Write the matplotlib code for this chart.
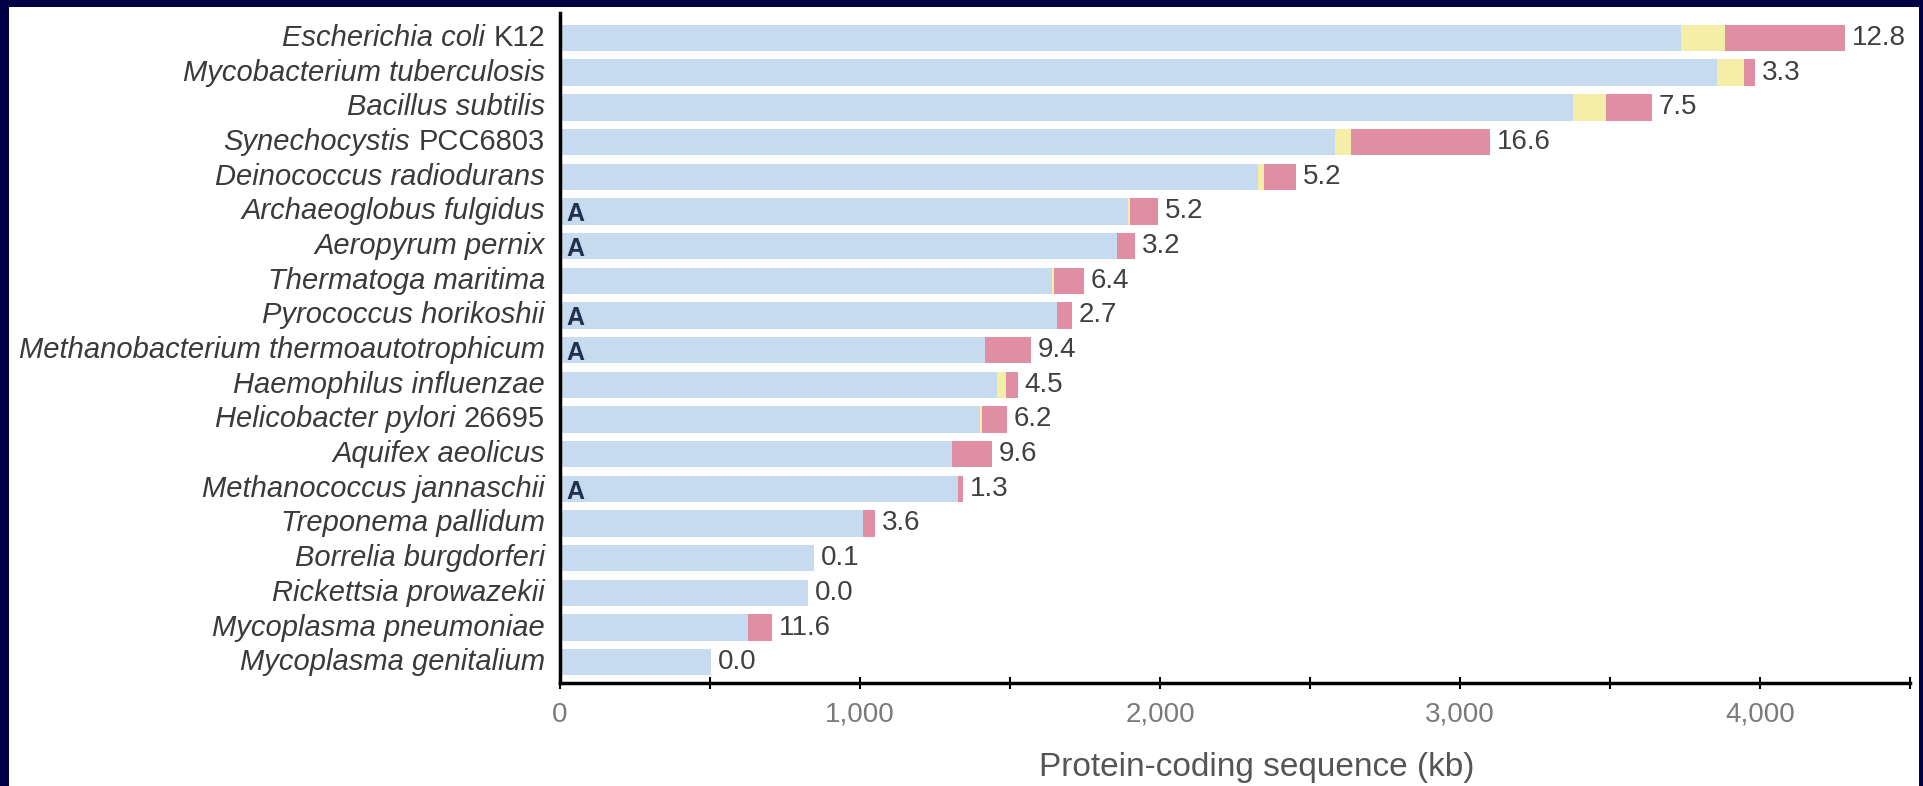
import matplotlib
matplotlib.use("Agg")
import matplotlib.pyplot as plt
from matplotlib.patches import Rectangle
from matplotlib.ticker import MultipleLocator, FuncFormatter

plt.rcParams['font.family'] = ['Liberation Sans', 'DejaVu Sans']

# genomes, top to bottom
genus = ["Escherichia coli", "Mycobacterium tuberculosis", "Bacillus subtilis",
         "Synechocystis", "Deinococcus radiodurans", "Archaeoglobus fulgidus",
         "Aeropyrum pernix", "Thermatoga maritima", "Pyrococcus horikoshii",
         "Methanobacterium thermoautotrophicum", "Haemophilus influenzae",
         "Helicobacter pylori", "Aquifex aeolicus", "Methanococcus jannaschii",
         "Treponema pallidum", "Borrelia burgdorferi", "Rickettsia prowazekii",
         "Mycoplasma pneumoniae", "Mycoplasma genitalium"]
strain = ["K12", "", "", "PCC6803", "", "", "", "", "", "", "", "26695",
          "", "", "", "", "", "", ""]
archaea = [False, False, False, False, False, True, True, False, True, True,
           False, False, False, True, False, False, False, False, False]

# protein-coding sequence (kb), three stacked parts
blue = [3737, 3855, 3377, 2583, 2327, 1893, 1856, 1640, 1656, 1415,
        1455, 1400, 1307, 1327, 1010, 848, 827, 627, 503]
yellow = [146, 90, 110, 54, 20, 6, 0, 8, 0, 0,
          30, 6, 0, 0, 0, 0, 0, 0, 0]
pink = [400, 38, 153, 463, 106, 94, 61, 99, 50, 155,
        40, 84, 133, 16, 40, 0, 0, 80, 0]
pct = ["12.8", "3.3", "7.5", "16.6", "5.2", "5.2", "3.2", "6.4", "2.7", "9.4",
       "4.5", "6.2", "9.6", "1.3", "3.6", "0.1", "0.0", "11.6", "0.0"]

W, H = 1924, 786
fig = plt.figure(figsize=(W / 100, H / 100), dpi=100, facecolor="#000045")
panel = Rectangle((9 / W, 0), (1919 - 9) / W, (H - 7) / H,
                  transform=fig.transFigure, facecolor="white",
                  edgecolor="none", zorder=-10)
fig.patches.append(panel)

ax = fig.add_axes([560 / W, 103 / H, 1350 / W, 670 / H], zorder=5)
ax.set_facecolor("none")

y = list(range(len(genus)))
h = 0.76
left2 = [b + yy for b, yy in zip(blue, yellow)]
ax.barh(y, blue, height=h, color="#c6dbf0", linewidth=0)
ax.barh(y, yellow, left=blue, height=h, color="#f4eea6", linewidth=0)
ax.barh(y, pink, left=left2, height=h, color="#e08ea4", linewidth=0)

for i in y:
    end = left2[i] + pink[i]
    ax.annotate(pct[i], (end, i), xytext=(5, 0), textcoords="offset points",
                va="center", ha="left", fontsize=20, color="#404040")
    if archaea[i]:
        ax.text(22, i + 0.08, "A", va="center", ha="left", fontsize=18,
                fontweight="bold", color="#22304f")

ax.set_ylim(18.6, -0.72)
ax.set_xlim(0, 4500)
ax.set_yticks([])

# italic genus/species name plus roman strain label
xl = -15 / 0.3
for i in y:
    if strain[i]:
        t = ax.text(xl, i, strain[i], ha="right", va="center",
                    fontsize=21, color="#3a3a3a", clip_on=False)
        ax.annotate(genus[i], xy=(0, 0.5), xycoords=t, xytext=(-6, 0),
                    textcoords="offset points", ha="right", va="center",
                    fontsize=21, style="italic", color="#3a3a3a",
                    annotation_clip=False)
    else:
        ax.text(xl, i, genus[i], ha="right", va="center", clip_on=False,
                fontsize=21, style="italic", color="#3a3a3a")

ax.xaxis.set_major_locator(MultipleLocator(1000))
ax.xaxis.set_minor_locator(MultipleLocator(500))
ax.xaxis.set_major_formatter(FuncFormatter(lambda v, p: f"{v:,.0f}"))
ax.tick_params(axis="x", which="both", direction="inout", length=9, width=1.5,
               labelsize=20, labelcolor="#7a7a7a", pad=9)
ax.set_xlabel("Protein-coding sequence (kb)", fontsize=24, color="#555555",
              va="center")
ax.xaxis.set_label_coords(0.516, -0.126)

for s in ["top", "right"]:
    ax.spines[s].set_visible(False)
ax.spines["left"].set_linewidth(2.5)
ax.spines["bottom"].set_linewidth(2.5)

fig.savefig("out.png", dpi=100, facecolor=fig.get_facecolor())
